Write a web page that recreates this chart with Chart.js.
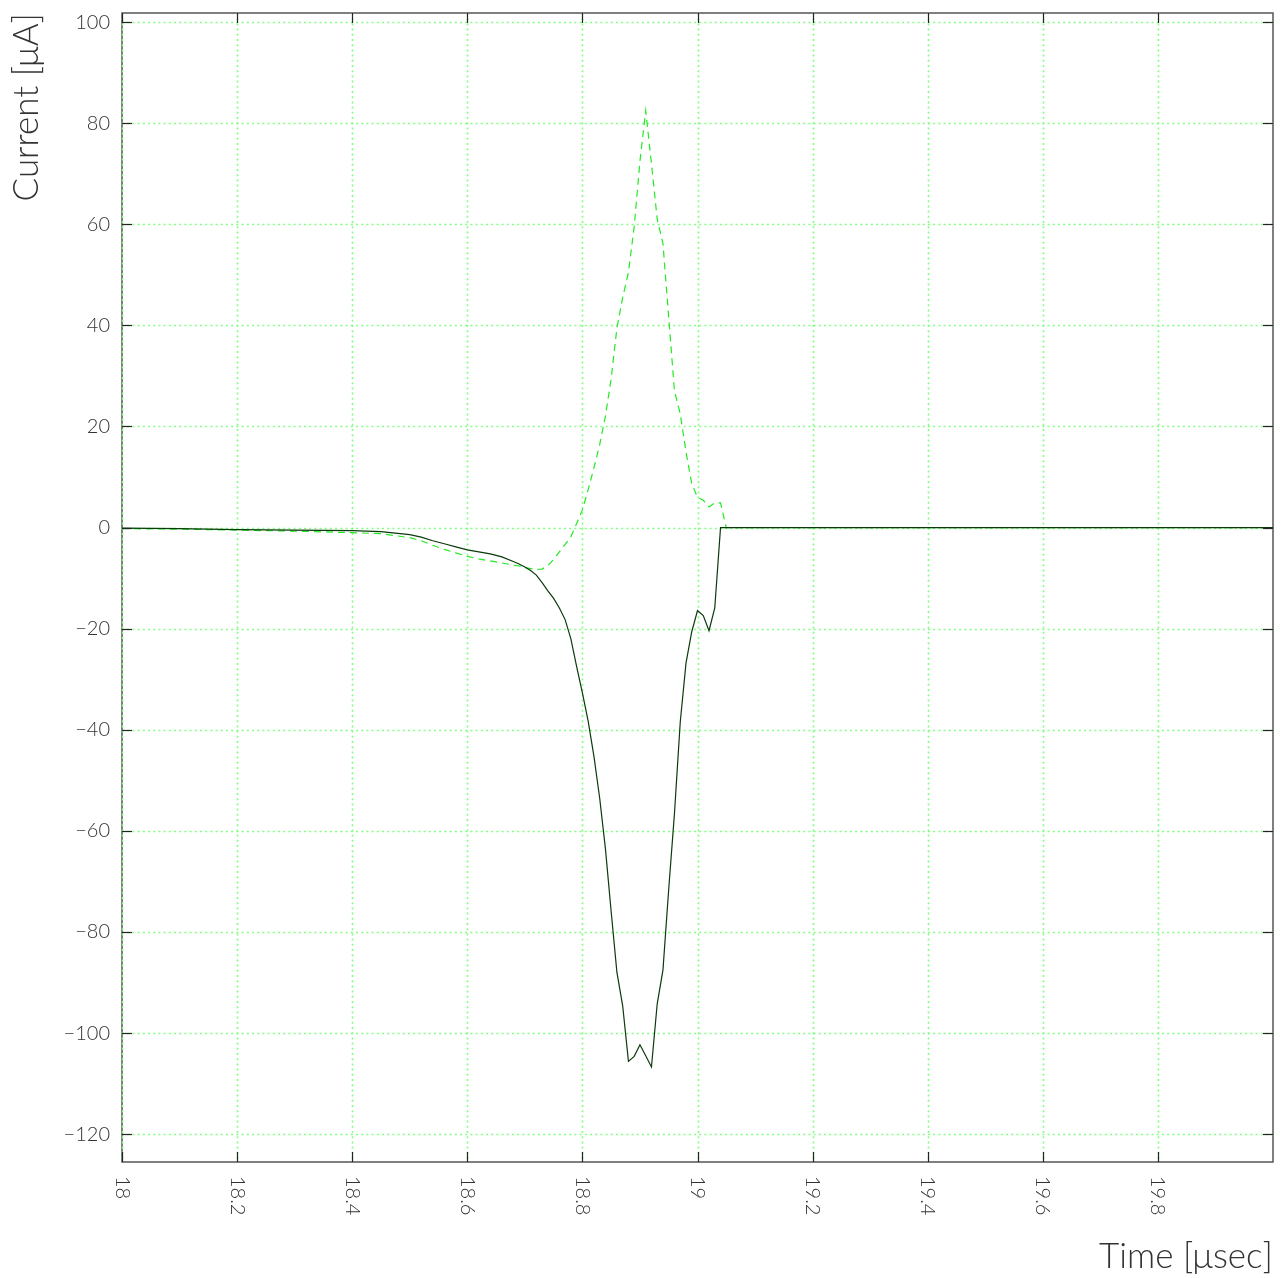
<!DOCTYPE html>
<html>
<head>
<meta charset="utf-8">
<script src="https://cdn.jsdelivr.net/npm/chart.js@4.4.1/dist/chart.umd.min.js"></script>
<style>
  html, body { margin: 0; padding: 0; background: #ffffff; }
  #wrap { width: 1282px; height: 1278px; }
</style>
</head>
<body>
<div id="wrap"><canvas id="c" width="1282" height="1278"></canvas></div>
<script>
// ---- data (time in µs, current in µA) ----
const timeUs = [
  18.00, 18.10, 18.20, 18.30, 18.40, 18.45,
  18.50, 18.52, 18.54, 18.56, 18.58, 18.60, 18.62, 18.64, 18.66, 18.68,
  18.69, 18.70, 18.71, 18.72, 18.73, 18.74, 18.75, 18.76, 18.77, 18.78,
  18.79, 18.80, 18.81, 18.82, 18.83, 18.84, 18.85, 18.86, 18.87, 18.88,
  18.89, 18.90, 18.91, 18.92, 18.93, 18.94, 18.95, 18.96, 18.97, 18.98,
  18.99, 19.00, 19.01, 19.02, 19.03, 19.04, 19.05, 20.00
];
const currentSolid = [
  -0.1, -0.2, -0.4, -0.5, -0.6, -0.8,
  -1.4, -1.9, -2.6, -3.2, -3.8, -4.4, -4.8, -5.2, -5.8, -6.7,
  -7.2, -7.8, -8.5, -9.4, -10.9, -12.5, -14.0, -15.9, -18.2, -22.0,
  -27.5, -32.7, -38.3, -45.2, -53.5, -63.5, -76.0, -88.0, -94.6, -105.6,
  -104.6, -102.3, -104.5, -106.7, -94.2, -87.5, -71.5, -56.5, -38.5, -26.8,
  -20.6, -16.4, -17.4, -20.4, -15.9, 0, 0, 0
];
const currentDashed = [
  -0.2, -0.3, -0.5, -0.7, -1.0, -1.2,
  -2.0, -2.6, -3.5, -4.3, -5.0, -5.7, -6.2, -6.6, -7.0, -7.4,
  -7.6, -7.9, -8.1, -8.3, -8.2, -7.5, -6.3, -4.8, -3.3, -1.8,
  0.8, 3.5, 7.5, 11.8, 16.4, 22.0, 29.5, 39.5, 45.5, 50.5,
  59.5, 72.5, 82.5, 72.0, 61.0, 56.2, 41.5, 27.0, 22.5, 15.0,
  8.7, 6.0, 5.4, 4.1, 4.9, 4.9, 0, 0
];
const xRange = [18, 20];
const yRange = [-125.5, 101.8];
const xStep = 0.2;
const yStep = 20;
const xTitle = 'Time [\u03BCsec]';
const yTitle = 'Current [\u03BCA]';

const FONT = 'Lato';
const TEXT_COLOR = '#333333';

function fmtX(v) { return String(parseFloat(v.toFixed(2))); }
function fmtY(v) { return v < 0 ? '\u2212' + Math.abs(Math.round(v)) : String(Math.round(v)); }

const framePlugin = {
  id: 'frame',
  beforeDatasetsDraw(chart) {
    const ctx = chart.ctx;
    const a = chart.chartArea;
    const xs = chart.scales.x, ys = chart.scales.y;
    ctx.save();
    // axis box
    ctx.strokeStyle = '#555555';
    ctx.lineWidth = 1.5;
    ctx.setLineDash([]);
    ctx.strokeRect(a.left, a.top, a.right - a.left, a.bottom - a.top);
    // dotted grid
    ctx.strokeStyle = '#80ff80';
    ctx.lineWidth = 1.6;
    ctx.setLineDash([2, 3.2]);
    ys.ticks.forEach(t => {
      const y = Math.round(ys.getPixelForValue(t.value)) + 0.5;
      ctx.beginPath(); ctx.moveTo(a.left, y); ctx.lineTo(a.right, y); ctx.stroke();
    });
    xs.ticks.forEach(t => {
      if (t.value > xRange[1] - 1e-6) return;
      const x = Math.round(xs.getPixelForValue(t.value)) + 0.5;
      ctx.beginPath(); ctx.moveTo(x, a.top); ctx.lineTo(x, a.bottom); ctx.stroke();
    });
    ctx.restore();
  },
  afterDraw(chart) {
    const ctx = chart.ctx;
    const a = chart.chartArea;
    const xs = chart.scales.x, ys = chart.scales.y;
    const TL = 10;
    ctx.save();
    ctx.setLineDash([]);
    ctx.strokeStyle = '#222222';
    ctx.lineWidth = 1.2;
    ys.ticks.forEach(t => {
      const y = Math.round(ys.getPixelForValue(t.value)) + 0.5;
      ctx.beginPath(); ctx.moveTo(a.left, y); ctx.lineTo(a.left + TL, y); ctx.stroke();
      ctx.beginPath(); ctx.moveTo(a.right, y); ctx.lineTo(a.right - TL, y); ctx.stroke();
    });
    xs.ticks.forEach(t => {
      if (t.value > xRange[1] - 1e-6) return;
      const x = Math.round(xs.getPixelForValue(t.value)) + 0.5;
      ctx.beginPath(); ctx.moveTo(x, a.bottom); ctx.lineTo(x, a.bottom - TL); ctx.stroke();
      ctx.beginPath(); ctx.moveTo(x, a.top); ctx.lineTo(x, a.top + TL); ctx.stroke();
    });
    // rotated x tick labels (reading top to bottom)
    ctx.fillStyle = TEXT_COLOR;
    ctx.font = '300 20px ' + FONT;
    ctx.textAlign = 'left';
    ctx.textBaseline = 'middle';
    xs.ticks.forEach(t => {
      if (t.value > xRange[1] - 1e-6) return;
      const x = xs.getPixelForValue(t.value);
      ctx.save();
      ctx.translate(x, a.bottom + 14);
      ctx.rotate(Math.PI / 2);
      ctx.fillText(fmtX(t.value), 0, 0);
      ctx.restore();
    });
    ctx.restore();
  }
};

const points = (ys) => timeUs.map((t, i) => ({ x: t, y: ys[i] }));

new Chart(document.getElementById('c'), {
  type: 'line',
  data: {
    datasets: [
      {
        label: 'solid',
        data: points(currentSolid),
        borderColor: '#0b3a0b',
        borderWidth: 1.2,
        pointRadius: 0,
        tension: 0,
        fill: false
      },
      {
        label: 'dashed',
        data: points(currentDashed),
        borderColor: '#22ea22',
        borderWidth: 1.2,
        borderDash: [7, 5],
        pointRadius: 0,
        tension: 0,
        fill: false
      }
    ]
  },
  options: {
    responsive: false,
    animation: false,
    devicePixelRatio: 1,
    layout: { padding: { top: 13, right: 9, left: 0, bottom: 0 } },
    plugins: { legend: { display: false }, tooltip: { enabled: false } },
    scales: {
      x: {
        type: 'linear',
        min: xRange[0],
        max: xRange[1],
        grid: { display: false },
        border: { display: false },
        ticks: { display: false, stepSize: xStep, includeBounds: false },
        title: {
          display: true,
          text: xTitle,
          align: 'end',
          color: TEXT_COLOR,
          font: { family: FONT, size: 35, weight: '300' },
          padding: { top: 0, bottom: 0 }
        },
        afterFit(scale) {
          scale.height = 116;
          scale.paddingLeft = 0; scale.paddingRight = 0;
        }
      },
      y: {
        type: 'linear',
        min: yRange[0],
        max: yRange[1],
        grid: { display: false, drawTicks: false },
        border: { display: false },
        ticks: {
          stepSize: yStep,
          includeBounds: false,
          padding: 12,
          color: TEXT_COLOR,
          font: { family: FONT, size: 20, weight: '300' },
          callback: (v) => fmtY(v)
        },
        title: {
          display: true,
          text: yTitle,
          align: 'end',
          color: TEXT_COLOR,
          font: { family: FONT, size: 35, weight: '300' },
          padding: { top: 6, bottom: 0 }
        },
        afterFit(scale) {
          scale.width = 122;
          scale.paddingTop = 0; scale.paddingBottom = 0;
        }
      }
    }
  },
  plugins: [framePlugin]
});
</script>
</body>
</html>
